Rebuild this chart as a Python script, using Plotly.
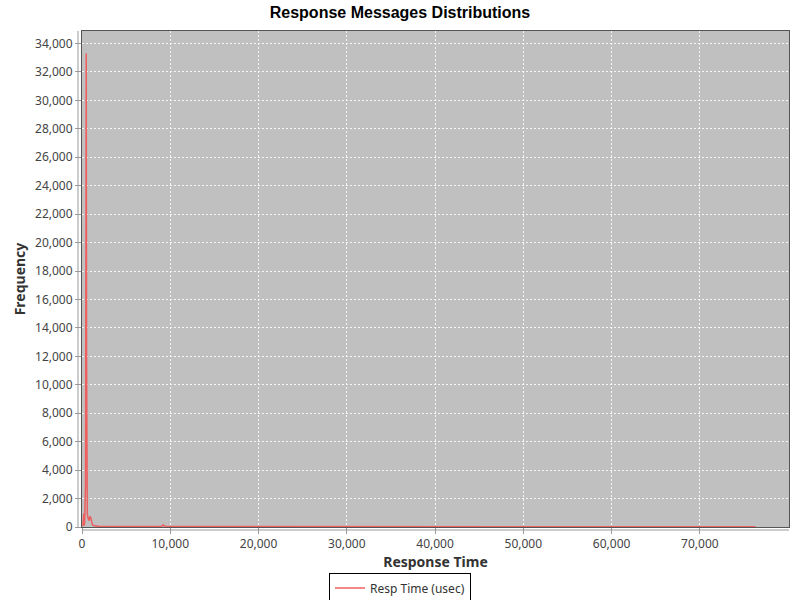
"""Response message distribution chart (JFreeChart look) rebuilt with Plotly."""
import plotly.graph_objects as go

# response time bins (usec) and how many messages fell in each
resp_time = [100, 200, 250, 300, 400, 480, 520, 600, 700, 800, 900, 1000, 1100,
             1200, 1400, 1700, 2000, 3000, 5000, 7000, 9000, 9200, 9400, 12000,
             15000, 20000, 25000, 30000, 40000, 50000, 60000, 70000, 76300]
frequency = [60, 950, 100, 300, 3000, 33300, 12000, 900, 600, 450, 750, 650, 350,
             150, 80, 50, 40, 30, 30, 25, 30, 160, 35, 30,
             25, 30, 25, 20, 20, 15, 15, 10, 10]

series_name = "Resp Time (usec)"
x_ticks = [0, 10000, 20000, 30000, 40000, 50000, 60000, 70000]
y_ticks = list(range(0, 34001, 2000))

line_color = "rgb(238,96,96)"
tick_font = dict(family="Noto Sans", size=12, color="#444444")
label_font = dict(family="Noto Sans", size=14, color="#333333")

fig = go.Figure()
fig.add_trace(
    go.Scatter(
        x=resp_time,
        y=frequency,
        mode="lines",
        name=series_name,
        line=dict(color=line_color, width=1.5),
    )
)

fig.update_layout(
    width=800,
    height=600,
    paper_bgcolor="white",
    plot_bgcolor="#c0c0c0",
    margin=dict(l=82, r=11, t=31, b=73, autoexpand=False),
    title=dict(
        text="<b>Response Messages Distributions</b>",
        x=0.5,
        xref="container",
        y=1 - 12 / 600,
        yanchor="middle",
        font=dict(family="Liberation Sans", size=16, color="black"),
    ),
    showlegend=True,
    legend=dict(
        orientation="h",
        xref="container",
        yref="container",
        x=0.5,
        xanchor="center",
        y=1 - 588 / 600,
        yanchor="middle",
        bordercolor="black",
        borderwidth=1,
        itemwidth=30,
        font=dict(family="Noto Sans", size=12, color="#333333"),
    ),
)

grid = dict(
    showgrid=True,
    gridcolor="rgba(255,255,255,0.85)",
    griddash="2px,2px",
    gridwidth=1,
    zeroline=False,
    showline=True,
    linecolor="#555555",
    mirror=True,
    automargin=False,
    ticks="outside",
    ticklen=6,
    tickcolor="#999999",
    tickformat=",d",
    tickfont=tick_font,
)

fig.update_xaxes(
    range=[0, 80100],
    tickvals=x_ticks,
    title=dict(text="<b>Response Time</b>", font=label_font, standoff=4),
    **grid,
)
fig.update_yaxes(
    range=[0, 34880],
    tickvals=y_ticks,
    title=dict(text="<b>Frequency</b>", font=label_font, standoff=6),
    **grid,
)

# JFreeChart draws its axis lines a few pixels away from the plot border
fig.add_shape(type="line", xref="paper", yref="paper",
              x0=-4 / 707, x1=-4 / 707, y0=0, y1=1,
              line=dict(color="#999999", width=1))
fig.add_shape(type="line", xref="paper", yref="paper",
              x0=0, x1=1, y0=-3 / 496, y1=-3 / 496,
              line=dict(color="#999999", width=1))

# drop the browser's default body margin so the 800x600 figure fits the window
fig.write_html(
    "out.html",
    config={"displayModeBar": False},
    post_script="document.body.style.margin='0';",
)
